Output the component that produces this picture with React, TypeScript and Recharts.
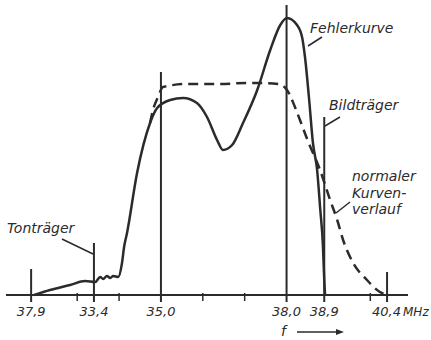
import React from 'react';
import {
    ComposedChart,
    Line,
    XAxis,
    YAxis,
    ReferenceLine,
    Customized,
} from 'recharts';

// frequency (MHz) / relative amplitude
const faultF = [31.97, 32.35, 32.83, 33.19, 33.43, 33.55, 33.62, 33.71, 33.79, 33.86, 33.98, 34.07, 34.12, 34.19, 34.43, 34.74, 34.91, 35.22, 35.53, 35.86, 36.1, 36.34, 36.48, 36.7, 36.96, 37.3, 37.61, 37.85, 38.01, 38.25, 38.37, 38.44, 38.54, 38.63, 38.73, 38.8, 38.87, 38.9, 38.92];
const faultV = [0, 5, 10, 14, 13, 18, 16, 19, 17, 19, 18, 32, 48, 62, 122, 172, 187, 195, 197, 192, 178, 155, 145, 150, 172, 205, 245, 270, 277, 270, 258, 238, 195, 152, 125, 88, 48, 15, 0];

const normalF = [34.74, 34.81, 34.93, 35.05, 35.62, 36.41, 37.06, 37.42, 37.8, 38.01, 38.2, 38.32, 38.5, 38.8, 39.04, 39.21, 39.35, 39.59, 39.92, 40.23, 40.4];
const normalV = [172, 185, 198, 208, 211, 211, 212, 212, 211, 205, 188, 175, 155, 125, 95, 75, 55, 32, 15, 3, 0];

const majorTicks = [31.9, 33.4, 35.0, 38.0, 38.9, 40.4];
const majorLabels = ['37,9', '33,4', '35,0', '38,0', '38,9', '40,4'];
const majorTops = [26, 52, 223, 290, 178, 23];
const minorTicks = [33, 34, 36, 37, 40];

const faultData = faultF.map((f, i) => ({ f, v: faultV[i] }));
const normalData = normalF.map((f, i) => ({ f, v: normalV[i] }));

const ink = '#2b2b2b';
const font = '"DejaVu Sans", sans-serif';

const FreqTick = (props: any) => {
    const { x, y, payload } = props;
    const idx = majorTicks.indexOf(payload.value);
    if (idx < 0) {
        return <line x1={x} x2={x} y1={y - 2} y2={y + 6} stroke={ink} strokeWidth={1.5} />;
    }
    const label = majorLabels[idx];
    if (label === '40,4') {
        return (
            <text x={x - 15} y={y + 21} fill={ink} fontSize={13} fontStyle="italic" fontFamily={font}>
                40,4<tspan fontSize={12} dx={2}>MHz</tspan>
            </text>
        );
    }
    return (
        <text x={x} y={y + 21} textAnchor="middle" fill={ink} fontSize={13} fontStyle="italic" fontFamily={font}>
            {label}
        </text>
    );
};

const Notes = () => (
    <g fill={ink} fontSize={14} fontStyle="italic" fontFamily={font}>
        <text x={310} y={33}>Fehlerkurve</text>
        <line x1={308} y1={46} x2={322} y2={37} stroke={ink} strokeWidth={1.5} />
        <text x={329} y={110}>Bildträger</text>
        <line x1={325} y1={126} x2={340} y2={117} stroke={ink} strokeWidth={1.5} />
        <text x={352} y={181}>normaler</text>
        <text x={352} y={198}>Kurven-</text>
        <text x={352} y={214}>verlauf</text>
        <line x1={336} y1={213} x2={350} y2={202} stroke={ink} strokeWidth={1.5} />
        <text x={7} y={233}>Tonträger</text>
        <line x1={62} y1={239} x2={93} y2={254} stroke={ink} strokeWidth={1.5} />
        <text x={281} y={336} fontSize={14}>f</text>
        <line x1={297} y1={332} x2={338} y2={332} stroke={ink} strokeWidth={1.5} />
        <path d="M336,329 L344,332 L336,335 Z" fill={ink} />
    </g>
);

export default function App() {
    return (
        <div style={{ position: 'absolute', left: 0, top: 0, background: '#fff' }}>
            <ComposedChart width={431} height={340} margin={{ top: 0, right: 23, bottom: 0, left: 6 }}>
                <XAxis
                    type="number"
                    dataKey="f"
                    domain={[31.3, 40.9]}
                    ticks={[...majorTicks, ...minorTicks]}
                    tick={<FreqTick />}
                    tickLine={false}
                    tickSize={0}
                    tickMargin={0}
                    height={45}
                    axisLine={{ stroke: ink, strokeWidth: 2 }}
                    interval={0}
                    allowDataOverflow
                />
                <YAxis type="number" domain={[0, 295]} hide />

                {majorTicks.map((t, i) => (
                    <ReferenceLine
                        key={t}
                        segment={[{ x: t, y: -7 }, { x: t, y: majorTops[i] }]}
                        stroke={ink}
                        strokeWidth={2}
                        ifOverflow="visible"
                    />
                ))}

                <Line
                    data={normalData}
                    dataKey="v"
                    type="monotone"
                    stroke={ink}
                    strokeWidth={2.5}
                    strokeDasharray="10 6"
                    dot={false}
                    isAnimationActive={false}
                />
                <Line
                    data={faultData}
                    dataKey="v"
                    type="monotone"
                    stroke={ink}
                    strokeWidth={2.5}
                    dot={false}
                    isAnimationActive={false}
                />
                <Customized component={Notes} />
            </ComposedChart>
        </div>
    );
}
